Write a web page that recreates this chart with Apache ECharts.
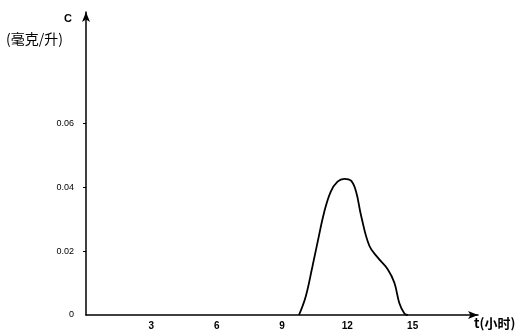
<!DOCTYPE html>
<html>
<head>
<meta charset="utf-8">
<script src="https://cdn.jsdelivr.net/npm/echarts@6/dist/echarts.min.js"></script>
<style>
  html, body { margin: 0; padding: 0; background: #fff; }
  #grafico { width: 528px; height: 336px; }
</style>
</head>
<body>
<div id="grafico"></div>
<script>
// tempo (horas) e concentração C (mg/L)
var tempos = [9.78, 10.09, 10.4, 10.63, 10.94, 11.24, 11.55, 11.86, 12.17, 12.4, 12.63, 13.01, 13.4, 13.86, 14.16, 14.39, 14.62, 14.78];
var concentracoes = [0, 0.0058, 0.0153, 0.0227, 0.0323, 0.0387, 0.0418, 0.0427, 0.0421, 0.0387, 0.0312, 0.0217, 0.018, 0.0143, 0.0101, 0.0037, 0.0005, 0];
var ticksX = [3, 6, 9, 12, 15];
var ticksY = [0, 0.02, 0.04, 0.06];

var chartDom = document.getElementById("grafico");
var myChart = echarts.init(chartDom);

var pontos = tempos.map(function (t, i) { return [t, concentracoes[i]]; });

var option = {
  backgroundColor: "#fff",
  animation: false,
  grid: { left: 86, right: 50, top: 12, bottom: 21 },
  xAxis: {
    type: "value",
    min: 0,
    max: 18,
    interval: 3,
    splitLine: { show: false },
    axisLine: {
      lineStyle: { color: "#000", width: 1.5 },
      symbol: ["none", "arrow"],
      symbolSize: [6, 10]
    },
    axisTick: { show: false },
    axisLabel: {
      customValues: ticksX,
      color: "#000",
      fontFamily: "Liberation Sans",
      fontWeight: "bold",
      fontSize: 10,
      margin: 6
    }
  },
  yAxis: {
    type: "value",
    min: 0,
    max: 0.095,
    interval: 0.02,
    splitLine: { show: false },
    axisLine: {
      lineStyle: { color: "#000", width: 1.5 },
      symbol: ["none", "arrow"],
      symbolSize: [6, 10]
    },
    axisTick: { customValues: [0.02, 0.04, 0.06], length: 3, lineStyle: { color: "#000" } },
    axisLabel: {
      customValues: ticksY,
      color: "#000",
      fontFamily: "Liberation Sans",
      fontSize: 9,
      margin: 12,
      formatter: function (v) { return v === 0 ? "0" : v.toFixed(2); }
    }
  },
  graphic: [
    { type: "text", left: 64, top: 13, style: { text: "C", fill: "#000", font: "bold 11px Liberation Sans" } },
    { type: "text", left: 6, top: 32, style: { text: "(毫克/升)", fill: "#000", font: "14px 'Noto Sans CJK SC'" } },
    { type: "text", left: 474, top: 317, style: { text: "t(小时)", fill: "#000", font: "bold 13px 'Noto Sans CJK SC'" } }
  ],
  series: [
    {
      type: "line",
      data: pontos,
      smooth: 0.4,
      showSymbol: false,
      lineStyle: { color: "#000", width: 1.8 }
    }
  ]
};

option && myChart.setOption(option);
</script>
</body>
</html>
